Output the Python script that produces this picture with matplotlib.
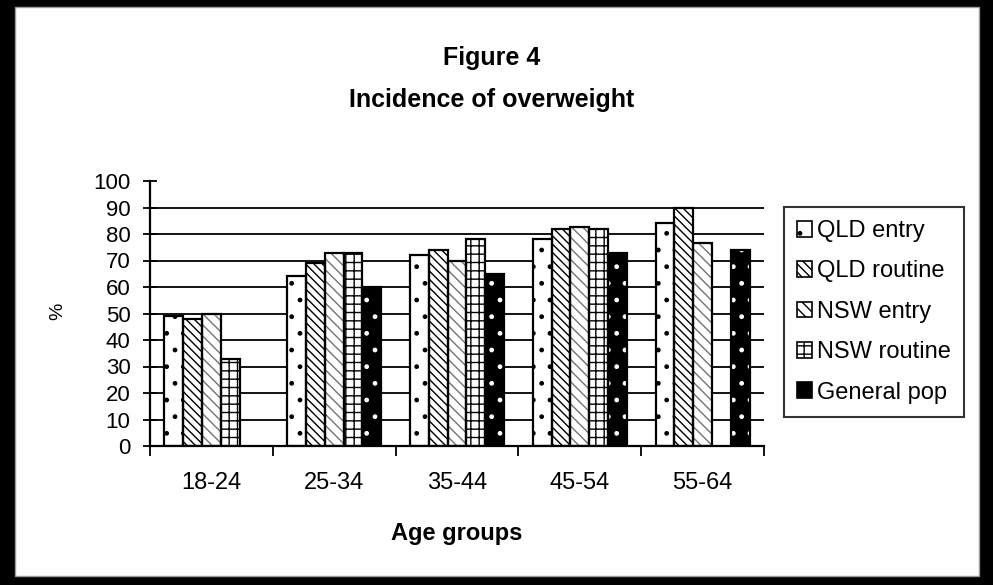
import numpy as np
import matplotlib
matplotlib.use("Agg")
import matplotlib.pyplot as plt
from matplotlib.patches import Patch, Rectangle

plt.rcParams["font.family"] = ["Liberation Sans", "DejaVu Sans"]
plt.rcParams["hatch.linewidth"] = 1.0

# data (None = no bar)
age_groups = ["18-24", "25-34", "35-44", "45-54", "55-64"]
series_names = ["QLD entry", "QLD routine", "NSW entry", "NSW routine", "General pop"]
qld_entry = [49, 64, 72, 78, 84]
qld_routine = [48, 69, 74, 82, 90]
nsw_entry = [50, 73, 70, 82.5, 76.5]
nsw_routine = [33, 73, 78, 82, None]
general_pop = [None, 60, 65, 73, 74]
y_ticks = [0, 10, 20, 30, 40, 50, 60, 70, 80, 90, 100]

series = [qld_entry, qld_routine, nsw_entry, nsw_routine, general_pop]
# (face, hatch, hatch colour)
styles = [
    ("white", ".", "black"),
    ("white", "\\\\\\\\", "black"),
    ("white", "\\\\\\", "0.45"),
    ("white", "++", "black"),
    ("black", ".", "white"),
]

fig = plt.figure(figsize=(9.93, 5.85), dpi=100)
fig.patch.set_facecolor("black")
fig.patches.append(Rectangle((15 / 993, 9 / 585), 964 / 993, 569 / 585,
                             transform=fig.transFigure, facecolor="white",
                             edgecolor="0.6", linewidth=1.0, zorder=-10))

ax = fig.add_axes([150 / 993, (585 - 446) / 585, 614 / 993, 265 / 585])
ax.set_facecolor("white")

x = np.arange(len(age_groups))
w = 0.153
for i, (vals, (fc, hatch, hc)) in enumerate(zip(series, styles)):
    h = np.array([np.nan if v is None else v for v in vals], dtype=float)
    pos = x + (i - 2) * w
    ax.bar(pos, h, w, color=fc, edgecolor=hc, hatch=hatch, linewidth=0, zorder=2)
    ax.bar(pos, h, w, facecolor="none", edgecolor="black", linewidth=1.6, zorder=3)

for v in y_ticks[1:-1]:
    ax.axhline(v, color="black", linewidth=1.3, zorder=1)

ax.set_xlim(-0.5, len(age_groups) - 0.5)
ax.set_ylim(0, 100)
ax.set_yticks(y_ticks)
ax.tick_params(axis="y", direction="inout", length=10, width=1.3, labelsize=16, pad=9)
ax.set_xticks(x)
ax.set_xticklabels(age_groups)
ax.tick_params(axis="x", which="major", length=0, labelsize=17, pad=19)
ax.set_xticks(np.arange(len(age_groups) + 1) - 0.5, minor=True)
ax.tick_params(axis="x", which="minor", direction="out", length=7, width=1.3)

for side in ["top", "right"]:
    ax.spines[side].set_visible(False)
for side in ["left", "bottom"]:
    ax.spines[side].set_linewidth(1.6)

ax.set_xlabel("Age groups", fontsize=17, fontweight="bold", labelpad=20)
fig.text(58 / 993, 1 - 311 / 585, "%", rotation=90, fontsize=14, ha="center", va="center")

fig.text(0.4955, 1 - 58 / 585, "Figure 4", fontsize=18, fontweight="bold",
         ha="center", va="center")
fig.text(0.4955, 1 - 100 / 585, "Incidence of overweight", fontsize=18, fontweight="bold",
         ha="center", va="center")

handles = []
for name, (fc, hatch, hc) in zip(series_names, styles):
    handles.append(Patch(facecolor=fc, edgecolor="black", hatch=hatch if fc == "white" else None,
                         linewidth=1.2, label=name))
leg = fig.legend(handles=handles, loc="upper left", bbox_to_anchor=(784 / 993, 1 - 207 / 585),
                 fontsize=17, frameon=True, fancybox=False, edgecolor="black",
                 handlelength=0.65, handleheight=0.65, handletextpad=0.2,
                 labelspacing=0.78, borderpad=0.55, borderaxespad=0)
leg.get_frame().set_linewidth(1.5)

fig.savefig("out.png", dpi=100, facecolor=fig.get_facecolor())
